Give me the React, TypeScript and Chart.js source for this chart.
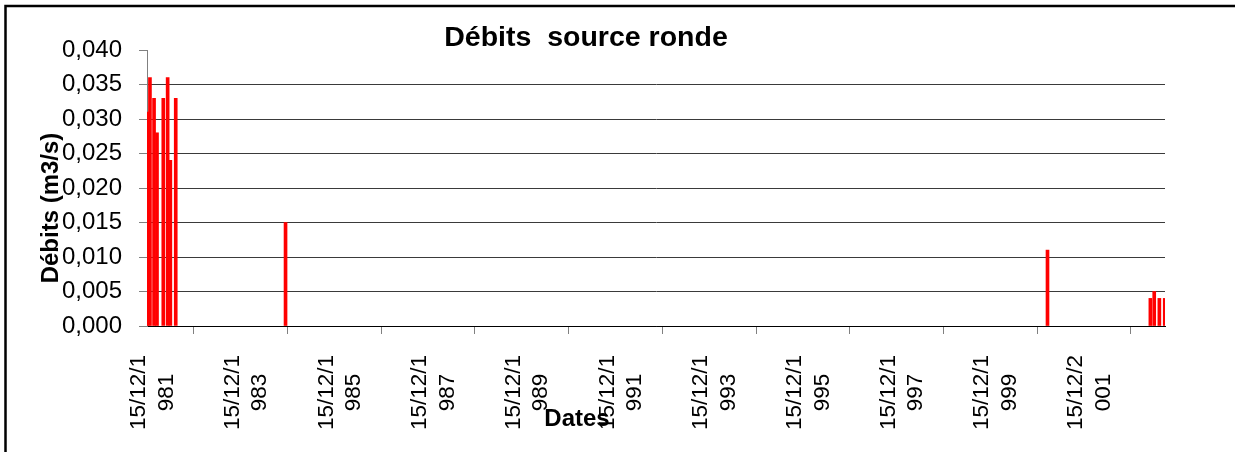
import React, { useEffect, useRef } from "react";
import { Chart, registerables } from "chart.js";

Chart.register(...registerables);

// Measurement dates and flows (m3/s)
const measureDates = [
  "1981-12-19", "1982-01-07", "1982-02-08", "1982-03-03",
  "1982-04-21", "1982-05-25", "1982-06-15", "1982-07-27",
  "1984-11-29", "2001-03-05",
  "2003-05-16", "2003-06-15", "2003-07-25", "2003-09-05",
];
const debits = [
  0.031, 0.036, 0.033, 0.028,
  0.033, 0.036, 0.024, 0.033,
  0.015, 0.011,
  0.004, 0.005, 0.004, 0.004,
];

// Axis
const axisStart = "1981-12-15";
const axisEnd = "2003-09-07";
const tickDates = [
  "1981-12-15", "1983-12-15", "1985-12-15", "1987-12-15", "1989-12-15",
  "1991-12-15", "1993-12-15", "1995-12-15", "1997-12-15", "1999-12-15",
  "2001-12-15",
];
const tickLabels = [
  "15/12/1981", "15/12/1983", "15/12/1985", "15/12/1987", "15/12/1989",
  "15/12/1991", "15/12/1993", "15/12/1995", "15/12/1997", "15/12/1999",
  "15/12/2001",
];
const yTicks = [0, 0.005, 0.01, 0.015, 0.02, 0.025, 0.03, 0.035, 0.04];

const chartTitle = "Débits  source ronde";
const yTitle = "Débits (m3/s)";
const xTitle = "Dates";

const dayOf = (s: string) => (Date.parse(s) - Date.parse(axisStart)) / 86400000;

const FONT = "'Liberation Sans', Arial, sans-serif";

const decorPlugin = {
  id: "decor",
  afterDraw(chart: any) {
    const ctx = chart.ctx as CanvasRenderingContext2D;
    ctx.save();
    // outer frame
    ctx.strokeStyle = "#000";
    ctx.lineWidth = 2.5;
    ctx.strokeRect(5.5, 6, 3000, 3000);
    ctx.fillStyle = "#000";
    ctx.textAlign = "center";
    ctx.textBaseline = "middle";
    // chart title
    ctx.font = `bold 28.5px ${FONT}`;
    ctx.fillText(chartTitle, 586, 38);
    // x title
    ctx.font = `bold 24px ${FONT}`;
    ctx.fillText(xTitle, 577, 419);
    // y title
    ctx.translate(51, 208);
    ctx.rotate(-Math.PI / 2);
    ctx.fillText(yTitle, 0, 0);
    ctx.restore();
  },
};

export default function App() {
  const ref = useRef<HTMLCanvasElement>(null);

  useEffect(() => {
    document.body.style.margin = "0";
    const canvas = ref.current!;
    const chart = new Chart(canvas, {
      type: "bar",
      data: {
        datasets: [
          {
            data: measureDates.map((d, i) => ({ x: dayOf(d), y: debits[i] })),
            backgroundColor: "#FF0000",
            borderWidth: 0,
            barThickness: 3,
          },
        ],
      },
      options: {
        animation: false,
        responsive: false,
        devicePixelRatio: 1,
        layout: { padding: { top: 50, right: 70, left: 0, bottom: 0 } },
        plugins: {
          legend: { display: false },
          title: { display: false },
          tooltip: { enabled: false },
        },
        scales: {
          x: {
            type: "linear",
            min: 0,
            max: dayOf(axisEnd),
            offset: false,
            afterBuildTicks: (s: any) => {
              s.ticks = tickDates.map((d) => ({ value: dayOf(d) }));
            },
            afterFit: (s: any) => {
              s.height = 126;
            },
            ticks: {
              autoSkip: false,
              minRotation: 90,
              maxRotation: 90,
              padding: 21,
              labelOffset: -8,
              color: "#000",
              font: { family: FONT, size: 22.5, lineHeight: 1.22 },
              callback: (_v: any, i: number) => {
                const t = tickLabels[i];
                // second line padded with trailing spaces so it sits centred under the first
                return [t.slice(0, 7), t.slice(7) + "   "];
              },
            },
            grid: {
              drawOnChartArea: false,
              drawTicks: true,
              tickLength: 8,
              tickColor: "#808080",
              color: "#808080",
            },
            border: { color: "#000", width: 1 },
          },
          y: {
            type: "linear",
            min: 0,
            max: 0.04,
            afterBuildTicks: (s: any) => {
              s.ticks = yTicks.map((v) => ({ value: v }));
            },
            afterFit: (s: any) => {
              s.width = 147;
            },
            ticks: {
              padding: 17,
              color: "#000",
              font: { family: FONT, size: 24 },
              callback: (v: any) => Number(v).toFixed(3).replace(".", ","),
            },
            grid: {
              tickLength: 8,
              tickColor: "#808080",
              color: (c: any) => {
                const v = c.tick ? c.tick.value : 0;
                if (Math.abs(v - 0.04) < 1e-9) return "rgba(0,0,0,0)";
                if (Math.abs(v) < 1e-9) return "#000";
                return "#3a3a3a";
              },
            },
            border: { color: "#808080", width: 1 },
          },
        },
      },
      plugins: [decorPlugin],
    });
    return () => chart.destroy();
  }, []);

  return <canvas ref={ref} width={1235} height={452} style={{ display: "block" }} />;
}
